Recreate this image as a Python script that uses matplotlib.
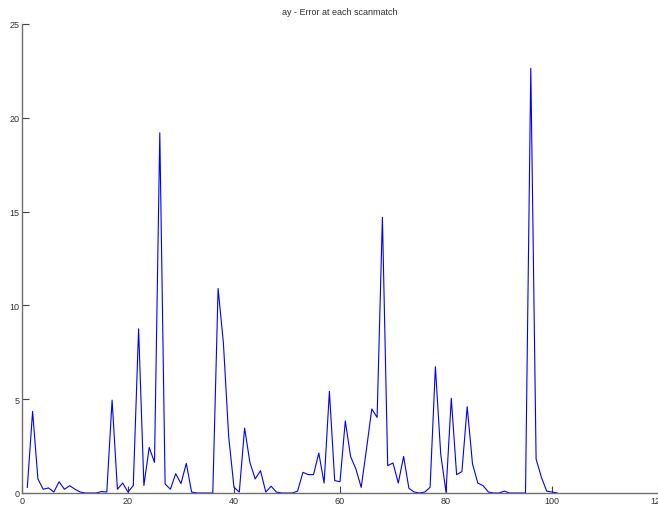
import matplotlib
matplotlib.use("Agg")
import matplotlib.pyplot as plt

# Scan-match index and the y error measured at each one
scan_index = list(range(1, 102))
ay_error = [
    0.3, 4.35, 0.75, 0.2, 0.27, 0.05, 0.6, 0.2, 0.39, 0.2,      # 1-10
    0.05, 0.0, 0.0, 0.0, 0.08, 0.05, 4.95, 0.2, 0.53, 0.05,     # 11-20
    0.4, 8.75, 0.4, 2.43, 1.63, 19.2, 0.48, 0.2, 1.03, 0.5,     # 21-30
    1.58, 0.05, 0.0, 0.0, 0.0, 0.0, 10.9, 8.0, 3.0, 0.3,        # 31-40
    0.05, 3.46, 1.63, 0.75, 1.19, 0.05, 0.36, 0.05, 0.0, 0.0,   # 41-50
    0.0, 0.1, 1.1, 0.98, 0.98, 2.13, 0.53, 5.42, 0.66, 0.6,     # 51-60
    3.84, 1.94, 1.28, 0.3, 2.35, 4.48, 4.03, 14.7, 1.46, 1.6,   # 61-70
    0.53, 1.95, 0.25, 0.05, 0.0, 0.05, 0.3, 6.73, 2.08, 0.05,   # 71-80
    5.05, 0.98, 1.14, 4.6, 1.55, 0.53, 0.39, 0.05, 0.0, 0.0,    # 81-90
    0.1, 0.0, 0.0, 0.0, 0.0, 22.64, 1.81, 0.84, 0.1, 0.05,      # 91-100
    0.0,                                                        # 101
]
x_ticks = [0, 20, 40, 60, 80, 100, 120]
y_ticks = [0, 5, 10, 15, 20, 25]

plt.rcParams["font.family"] = ["Liberation Sans", "DejaVu Sans"]

fig = plt.figure(figsize=(6.58, 5.06), dpi=100)
ax = fig.add_axes([22 / 658, 12 / 506, 636 / 658, 469 / 506])

ax.plot(scan_index, ay_error, color="#0000ff", linewidth=0.8)

ax.set_xlim(0, 120)
ax.set_ylim(0, 25)
ax.set_xticks(x_ticks)
ax.set_yticks(y_ticks)

axis_grey = "#707070"
for side in ("top", "right"):
    ax.spines[side].set_visible(False)
for side in ("left", "bottom"):
    ax.spines[side].set_color(axis_grey)
    ax.spines[side].set_linewidth(1.0)

ax.tick_params(direction="in", length=5, width=0.8, color="#404040",
               labelsize=6.5, labelcolor="#303030", pad=2)

ax.set_title("ay - Error at each scanmatch", fontsize=6.5, color="#303030", pad=7)

fig.savefig("out.png", dpi=100)
